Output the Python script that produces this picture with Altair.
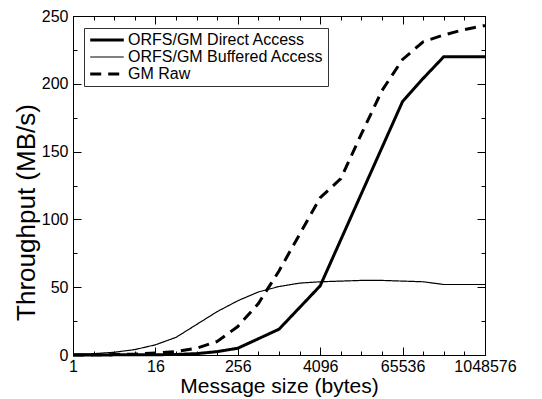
import altair as alt
import pandas as pd

sizes = [1, 2, 4, 8, 16, 32, 64, 128, 256, 512, 1024, 2048, 4096, 8192, 16384,
         32768, 65536, 131072, 262144, 524288, 1048576]
direct = [0, 0, 0.1, 0.1, 0.2, 0.4, 1, 2.5, 5, 12, 19, 35, 51, 85, 119, 153,
          187, 204, 220, 220, 220]
buffered = [0.5, 1, 2, 4, 7.5, 13, 22.5, 32, 40, 46.5, 50.5, 53, 54, 54.5, 55,
            55, 54.5, 54, 52, 52, 52]
raw = [0, 0.1, 0.3, 0.7, 1.5, 2.5, 5, 10, 21, 38, 62, 89, 116, 130, 163, 195,
       218, 231, 236, 240, 243]
names = ["ORFS/GM Direct Access", "ORFS/GM Buffered Access", "GM Raw"]
x_major = [1, 16, 256, 4096, 65536, 1048576]
y_major = [0, 50, 100, 150, 200, 250]
y_minor = [25, 75, 125, 175, 225]

rows = []
for name, vals in zip(names, [direct, buffered, raw]):
    for s, v in zip(sizes, vals):
        rows.append({"size": s, "mbps": v, "series": name})
df = pd.DataFrame(rows)

FONT = "Liberation Sans"
xscale = alt.Scale(type="log", base=2, domain=[1, 1048576], nice=False)
yscale = alt.Scale(domain=[0, 250], nice=False, zero=True)

base = alt.Chart(df)

lines = base.mark_line(color="black").encode(
    x=alt.X("size:Q", scale=xscale,
            axis=alt.Axis(values=x_major, format="d", title="Message size (bytes)",
                          ticks=False, domain=False, grid=False,
                          labelFlush=False, labelOverlap=False, labelBound=False,
                          labelFontSize=16, labelPadding=3, labelColor="black",
                          labelFont=FONT, titleFont=FONT, titleFontSize=21,
                          titleFontWeight="normal", titleColor="black",
                          titleY=37, titleBaseline="alphabetic")),
    y=alt.Y("mbps:Q", scale=yscale,
            axis=alt.Axis(values=y_major, title="Throughput (MB/s)",
                          ticks=False, domain=False, grid=False,
                          labelFlush=False, labelOverlap=False,
                          labelFontSize=16, labelPadding=5, labelColor="black",
                          labelFont=FONT, titleFont=FONT, titleFontSize=26,
                          titleFontWeight="normal", titleColor="black",
                          titleX=-47, titleY=196, titleAngle=270,
                          titleAlign="center", titleBaseline="middle")),
    strokeDash=alt.StrokeDash(
        "series:N",
        scale=alt.Scale(domain=names, range=[[1, 0], [1, 0], [11, 7]]),
        legend=alt.Legend(title=None)),
    strokeWidth=alt.StrokeWidth(
        "series:N",
        scale=alt.Scale(type="ordinal", domain=names, range=[3, 1.2, 3]),
        legend=alt.Legend(title=None)),
    order=alt.Order("size:Q"),
)


def tick_layer(xorient, yorient, xvals, yvals, size):
    return base.mark_line(strokeOpacity=0).encode(
        x=alt.X("size:Q", scale=xscale,
                axis=alt.Axis(orient=xorient, values=xvals, offset=-size,
                              tickSize=size, labels=False, domain=False,
                              grid=False, title=None, tickColor="black")),
        y=alt.Y("mbps:Q", scale=yscale,
                axis=alt.Axis(orient=yorient, values=yvals, offset=-size,
                              tickSize=size, labels=False, domain=False,
                              grid=False, title=None, tickColor="black")),
        detail="series:N",
    )


chart = alt.layer(
    lines,
    tick_layer("bottom", "left", x_major, y_major, 8),
    tick_layer("bottom", "left", sizes, y_minor, 4),
    tick_layer("top", "right", x_major, y_major, 8),
    tick_layer("top", "right", sizes, y_minor, 4),
).resolve_axis(x="independent", y="independent").properties(
    width=412, height=339,
    padding={"left": 73, "top": 16, "right": 57, "bottom": 44},
    autosize="none",
    background="white",
).configure_view(
    stroke="black", strokeWidth=1
).configure_legend(
    orient="none", legendX=11, legendY=12,
    strokeColor="#333", fillColor="white", padding=4,
    symbolType="M-2.8,0H2.8", symbolSize=144, symbolStrokeColor="black",
    symbolOffset=11, labelOffset=13, labelLimit=400,
    labelFontSize=16, labelFont=FONT, labelColor="black",
    rowPadding=1, cornerRadius=0,
)

chart.save("out.html", embed_options={"renderer": "svg", "actions": False})
